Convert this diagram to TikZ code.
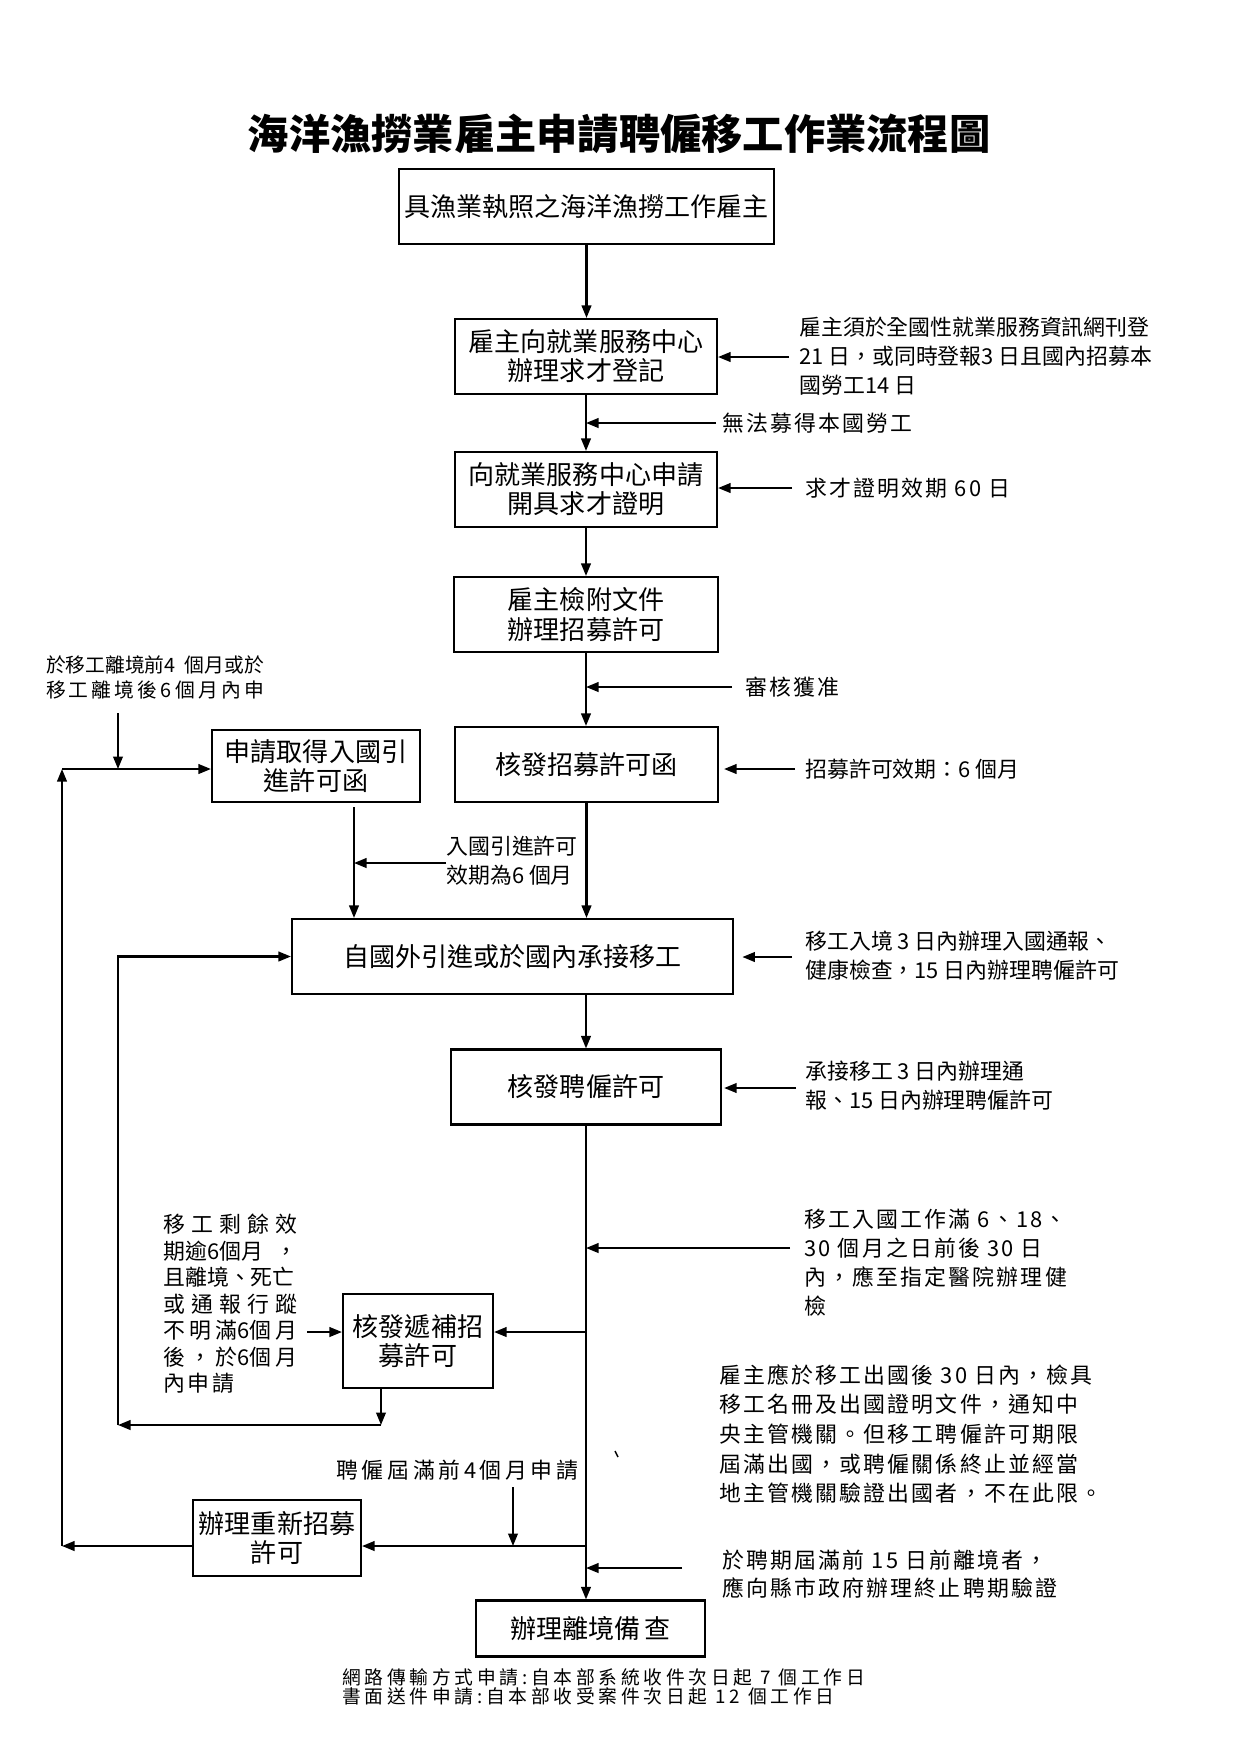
\documentclass[tikz,border=0pt]{standalone}
\usepackage{fontspec}
\setmainfont{Noto Sans CJK TC}
\newfontfamily\spacedfont{Noto Sans CJK TC}[LetterSpace=10]
\newfontfamily\footfont{Noto Sans CJK TC}[LetterSpace=20]
\usetikzlibrary{arrows.meta,calc}
\newcommand\spr[2]{\makebox[\dimexpr 0.48pt*#1\relax][s]{#2}}
\newcommand\hs{\hfil}
\begin{document}
\begin{tikzpicture}[x=0.48pt,y=-0.48pt,
  pbox/.style={draw,line width=1pt,inner sep=0pt,align=center,font=\fontsize{12.5}{14}\selectfont},
  bx/.style 2 args={minimum width=#1*0.48pt,minimum height=#2*0.48pt},
  note/.style={anchor=west,inner sep=0pt,align=left,font=\fontsize{10.5}{14}\selectfont},
  spnote/.style={anchor=west,inner sep=0pt,align=left,font=\fontsize{10.5}{14}\selectfont\spacedfont},
  arr/.style={line width=1pt,-{Triangle[length=6pt,width=4.6pt]}}]
\path[use as bounding box,fill=white] (0,0) rectangle (1240,1754);

% title
\node[font=\fontsize{19.8}{24}\selectfont\bfseries] (title) at (619,134) {海洋漁撈業雇主申請聘僱移工作業流程圖};

% boxes
\node[pbox,bx={375}{75}] (b1) at (586.5,206.5) {具漁業執照之海洋漁撈工作雇主};
\node[pbox,bx={262}{75}] (b2) at (586,356.5) {雇主向就業服務中心\\辦理求才登記};
\node[pbox,bx={262}{75}] (b3) at (586,489.5) {向就業服務中心申請\\開具求才證明};
\node[pbox,bx={264}{75}] (b4) at (586,614.5) {雇主檢附文件\\辦理招募許可};
\node[pbox,bx={263}{75}] (b5) at (586.5,764.5) {核發招募許可函};
\node[pbox,bx={208}{72}] (bL) at (316,766) {申請取得入國引\\進許可函};
\node[pbox,bx={441}{75}] (b6) at (512.5,956.5) {自國外引進或於國內承接移工};
\node[pbox,bx={270}{75}] (b7) at (586,1087) {核發聘僱許可};
\node[pbox,bx={150}{94}] (b8) at (418,1341) {核發遞補招\\募許可};
\node[pbox,bx={168}{76}] (b9) at (277,1538) {辦理重新招募\\許可};
\node[pbox,bx={229}{56}] (b10) at (590.5,1628.5) {辦理離境備\,查};

% notes
\node[note] (n2) at (799,356) {雇主須於全國性就業服務資訊網刊登\\21 日，或同時登報3 日且國內招募本\\國勞工14 日};
\node[spnote] (n2b) at (722,423) {無法募得本國勞工};
\node[spnote] (n3) at (805,488) {求才證明效期 60 日};
\node[spnote] (n4) at (745,687) {審核獲准};
\node[note] (n5) at (805,769) {招募許可效期：6 個月};
\node[inner sep=0pt,align=left,font=\fontsize{9.5}{12}\selectfont] (nL) at (155,677)
  {\spr{218}{於移工離境前4 個月或於}\\\spr{218}{移\hs 工\hs 離\hs 境\hs 後\hs 6\hs 個\hs 月\hs 內\hs 申}};
\node[note] (n6a) at (446,861) {入國引進許可\\效期為6 個月};
\node[note] (n6) at (805,956) {移工入境 3 日內辦理入國通報、\\健康檢查，15 日內辦理聘僱許可};
\node[note] (n7) at (805,1086) {承接移工 3 日內辦理通\\報、15 日內辦理聘僱許可};
\node[spnote,font=\fontsize{10.5}{13.9}\selectfont\spacedfont] (n8) at (804,1263)
  {移工入國工作滿 6、18、\\30 個月之日前後 30 日\\內，應至指定醫院辦理健\\檢};
\node[note,font=\fontsize{10.5}{12.7}\selectfont] (n9) at (163,1304)
  {\spr{134}{移\hs 工\hs 剩\hs 餘\hs 效}\\
   \spr{134}{期逾6個月\hs ，}\\
   \spr{134}{且離境、死亡}\\
   \spr{134}{或\hs 通\hs 報\hs 行\hs 蹤}\\
   \spr{134}{不\hs 明\hs 滿6個\hs 月}\\
   \spr{134}{後\hs ，\hs 於6個\hs 月}\\
   \spr{71}{內\hs 申\hs 請}};
\node[note] (n10) at (336,1470) {\spr{242}{聘\hs 僱\hs 屆\hs 滿\hs 前\hs 4\hs 個\hs 月\hs 申\hs 請}};
\node[spnote,font=\fontsize{10.5}{14.2}\selectfont\spacedfont] (n11) at (719,1434)
  {雇主應於移工出國後 30 日內，檢具\\移工名冊及出國證明文件，通知中\\央主管機關。但移工聘僱許可期限\\屆滿出國，或聘僱關係終止並經當\\地主管機關驗證出國者，不在此限。};
\node[spnote,font=\fontsize{10.5}{13.5}\selectfont\spacedfont] (n12) at (722,1574)
  {於聘期屆滿前 15 日前離境者，\\應向縣市政府辦理終止聘期驗證};
\node[anchor=west,inner sep=0pt,align=left,font=\fontsize{9}{9.4}\selectfont\footfont] (foot) at (342,1687)
  {網路傳輸方式申請:自本部系統收件次日起 7 個工作日\\書面送件申請:自本部收受案件次日起 12 個工作日};

% stray tick
\draw[line width=0.7pt] (615,1451) -- (618,1457);

% main flow
\draw[arr] (b1.south) -- (b1.south |- b2.north);
\draw[arr] (b2.south) -- (b3.north);
\draw[arr] (b3.south) -- (b4.north);
\draw[arr] (b4.south) -- (b4.south |- b5.north);
\draw[arr] (b5.south) -- (b5.south |- b6.north);
\draw[arr] (b7.north |- b6.south) -- (b7.north);
\draw[arr] (b7.south) -- (b7.south |- b10.north);

% side arrows
\coordinate (s2) at (789,357);  \draw[arr] (s2) -- (s2 -| b2.east);
\coordinate (s3) at (716,423);  \draw[arr] (s3) -- (s3 -| b2.south);
\coordinate (s4) at (792,488);  \draw[arr] (s4) -- (s4 -| b3.east);
\coordinate (s5) at (732,687);  \draw[arr] (s5) -- (s5 -| b4.south);
\coordinate (s6) at (795,769);  \draw[arr,shorten >=2.4pt] (s6) -- (s6 -| b5.east);
\coordinate (s7) at (118,713);
\coordinate (j1) at (62,769);
\draw[arr] (s7) -- (s7 |- j1);
\draw[arr] (j1) -- (j1 -| bL.west);
\coordinate (j0) at (62,1546);
\draw[arr] (j0) -- (j1);
\draw[arr] (j0 -| b9.west) -- (j0);
\draw[arr] (b7.south |- j0) -- (j0 -| b9.east);
\coordinate (s8) at (513,1487); \draw[arr] (s8) -- (s8 |- j0);
\coordinate (s9) at (354,807);  \draw[arr] (s9) -- (s9 |- b6.north);
\coordinate (s10) at (446,863); \draw[arr] (s10) -- (s10 -| s9);
\coordinate (s11) at (792,957); \draw[arr,shorten >=4pt] (s11) -- (s11 -| b6.east);
\coordinate (s12) at (796,1088); \draw[arr,shorten >=1pt] (s12) -- (s12 -| b7.east);
\coordinate (s13) at (790,1248); \draw[arr] (s13) -- (s13 -| b7.south);
\coordinate (j2) at (586,1332); \draw[arr] (j2) -- (j2 -| b8.east);
\coordinate (s14) at (307,1332); \draw[arr] (s14) -- (s14 -| b8.west);
\coordinate (j3) at (381,1425);
\coordinate (j4) at (118,1425);
\draw[arr] (j3 |- b8.south) -- (j3);
\draw[arr] (j3) -- (j4);
\draw[arr] (j4) -- (j4 |- b6.west) -- (b6.west);
\coordinate (s15) at (682,1568); \draw[arr] (s15) -- (s15 -| b7.south);
\end{tikzpicture}
\end{document}
